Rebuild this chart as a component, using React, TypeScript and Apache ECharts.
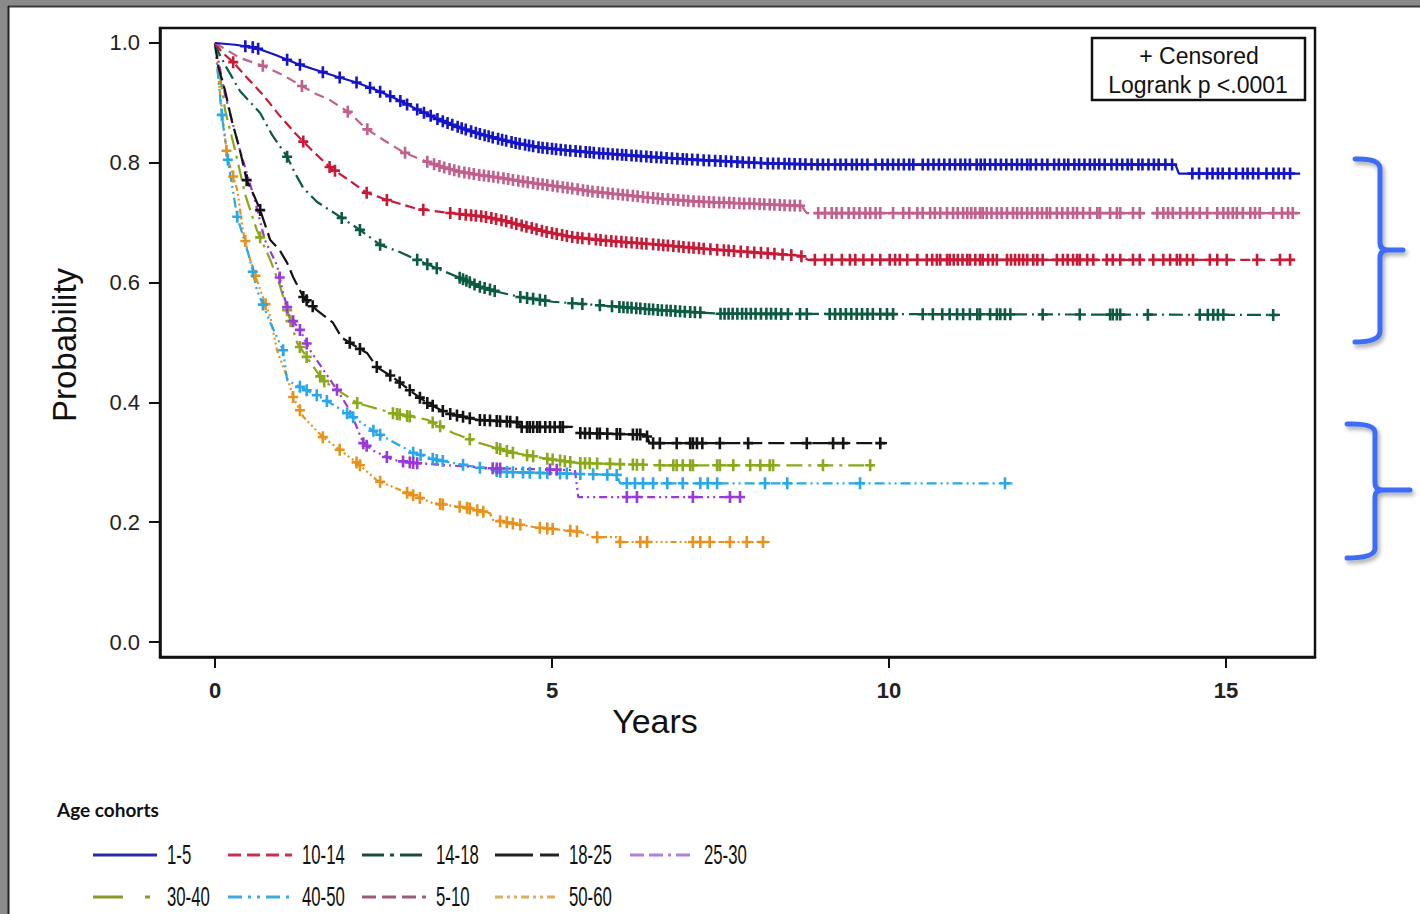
import React, { useEffect, useRef } from "react";
import * as echarts from "echarts";

// ---------- Data ----------
const COHORTS = ["1-5", "5-10", "10-14", "14-18", "18-25", "25-30", "30-40", "40-50", "50-60"];

// Kaplan–Meier curves: times (years) and survival probability
const T_1_5 = [0, 0.3, 0.6, 0.9, 1.2, 1.5, 1.8, 2.1, 2.4, 2.7, 3.0, 3.3, 3.6, 3.9, 4.2, 4.5, 4.8, 5.2, 5.7, 6.2, 6.7, 7.3, 8.2, 9.0, 14.25, 14.3, 16.1];
const S_1_5 = [1, 0.997, 0.992, 0.98, 0.966, 0.955, 0.944, 0.934, 0.921, 0.906, 0.889, 0.873, 0.86, 0.849, 0.84, 0.832, 0.826, 0.821, 0.816, 0.812, 0.808, 0.804, 0.799, 0.797, 0.797, 0.782, 0.782];

const T_5_10 = [0, 0.15, 0.37, 0.71, 1.0, 1.26, 1.5, 1.7, 2.0, 2.23, 2.5, 2.79, 3.0, 3.19, 3.4, 3.63, 3.9, 4.23, 4.6, 5.12, 5.6, 6.1, 6.6, 7.2, 7.9, 8.7, 8.78, 16.1];
const S_5_10 = [1, 0.99, 0.975, 0.962, 0.947, 0.93, 0.915, 0.905, 0.883, 0.858, 0.838, 0.818, 0.808, 0.8, 0.792, 0.785, 0.78, 0.775, 0.768, 0.76, 0.752, 0.746, 0.74, 0.735, 0.732, 0.728, 0.716, 0.716];

const T_10_14 = [0, 0.1, 0.27, 0.45, 0.7, 0.95, 1.2, 1.4, 1.7, 2.0, 2.25, 2.55, 3.0, 3.5, 4.0, 4.3, 4.6, 4.9, 5.3, 5.8, 6.5, 7.2, 7.8, 8.68, 8.8, 16.1];
const S_10_14 = [1, 0.985, 0.968, 0.945, 0.915, 0.88, 0.848, 0.825, 0.793, 0.77, 0.75, 0.738, 0.723, 0.716, 0.71, 0.703, 0.694, 0.685, 0.676, 0.67, 0.664, 0.657, 0.652, 0.645, 0.638, 0.638];

const T_14_18 = [0, 0.05, 0.15, 0.37, 0.67, 0.85, 1.07, 1.2, 1.31, 1.51, 1.88, 2.15, 2.45, 2.74, 3.0, 3.29, 3.63, 3.93, 4.25, 4.53, 5.01, 5.61, 6.6, 7.5, 15.8];
const S_14_18 = [1, 0.985, 0.963, 0.92, 0.883, 0.846, 0.81, 0.78, 0.758, 0.735, 0.708, 0.688, 0.663, 0.651, 0.638, 0.624, 0.608, 0.593, 0.583, 0.576, 0.568, 0.563, 0.554, 0.548, 0.546];

const T_18_25 = [0, 0.05, 0.15, 0.25, 0.37, 0.47, 0.58, 0.67, 0.82, 0.96, 1.07, 1.16, 1.31, 1.51, 1.75, 1.88, 2.11, 2.26, 2.4, 2.64, 2.94, 3.15, 3.44, 3.89, 4.48, 4.55, 5.3, 5.37, 6.4, 6.45, 9.97];
const S_18_25 = [1, 0.96, 0.92, 0.87, 0.821, 0.771, 0.745, 0.721, 0.671, 0.654, 0.633, 0.609, 0.576, 0.554, 0.533, 0.508, 0.492, 0.482, 0.459, 0.442, 0.416, 0.399, 0.382, 0.371, 0.367, 0.359, 0.359, 0.349, 0.346, 0.332, 0.332];

const T_25_30 = [0, 0.15, 0.37, 0.59, 0.74, 0.92, 1.01, 1.11, 1.26, 1.41, 1.81, 2.0, 2.2, 2.34, 2.64, 2.94, 4.12, 5.34, 5.39, 7.86];
const S_25_30 = [1, 0.913, 0.821, 0.738, 0.671, 0.629, 0.583, 0.543, 0.521, 0.487, 0.421, 0.387, 0.332, 0.32, 0.304, 0.299, 0.29, 0.287, 0.242, 0.242];

const T_30_40 = [0, 0.15, 0.3, 0.45, 0.62, 0.82, 0.96, 1.07, 1.22, 1.36, 1.6, 2.11, 2.64, 3.15, 3.53, 3.93, 4.42, 4.87, 5.37, 6.6, 9.82];
const S_30_40 = [1, 0.888, 0.82, 0.746, 0.688, 0.638, 0.596, 0.554, 0.499, 0.476, 0.437, 0.399, 0.382, 0.371, 0.349, 0.332, 0.316, 0.307, 0.299, 0.295, 0.295];

const T_40_50 = [0, 0.1, 0.19, 0.33, 0.52, 0.62, 0.82, 1.01, 1.07, 1.26, 1.56, 1.96, 2.4, 2.94, 3.29, 4.12, 4.23, 5.96, 6.01, 11.83];
const S_40_50 = [1, 0.88, 0.805, 0.71, 0.638, 0.588, 0.533, 0.487, 0.437, 0.426, 0.409, 0.382, 0.349, 0.316, 0.304, 0.287, 0.284, 0.279, 0.265, 0.265];

const T_50_60 = [0, 0.07, 0.18, 0.33, 0.42, 0.52, 0.67, 0.82, 0.92, 1.07, 1.16, 1.31, 1.6, 1.85, 2.11, 2.4, 2.85, 3.23, 3.74, 4.08, 4.12, 4.72, 5.42, 5.61, 5.96, 6.01, 8.23];
const S_50_60 = [1, 0.922, 0.81, 0.755, 0.683, 0.638, 0.588, 0.543, 0.487, 0.442, 0.409, 0.376, 0.342, 0.321, 0.299, 0.27, 0.249, 0.232, 0.224, 0.215, 0.204, 0.192, 0.184, 0.175, 0.175, 0.167, 0.167];

// Censoring times (years)
const C_1_5 = [0.45, 0.56, 0.64, 1.07, 1.26, 1.6, 1.85, 2.1, 2.3, 2.45, 2.6, 2.75, 2.85, 3.0, 3.1, 3.2, 3.3, 3.38, 3.45, 3.52, 3.6, 3.66, 3.72, 3.8, 3.87, 3.93, 4.0, 4.06, 4.12, 4.2, 4.26, 4.32, 4.4, 4.46, 4.52, 4.6, 4.66, 4.72, 4.8, 4.86, 4.93, 5.0, 5.06, 5.13, 5.2, 5.27, 5.35, 5.42, 5.5, 5.56, 5.62, 5.7, 5.76, 5.83, 5.9, 5.97, 6.04, 6.1, 6.18, 6.25, 6.32, 6.4, 6.47, 6.55, 6.62, 6.7, 6.78, 6.86, 6.94, 7.0, 7.08, 7.16, 7.25, 7.33, 7.42, 7.5, 7.58, 7.66, 7.75, 7.83, 7.92, 8.0, 8.1, 8.2, 8.28, 8.36, 8.45, 8.52, 8.6, 8.68, 8.76, 8.85, 8.94, 9.02, 9.1, 9.2, 9.28, 9.36, 9.45, 9.52, 9.6, 9.68, 9.8, 9.9, 9.98, 10.06, 10.14, 10.22, 10.3, 10.36, 10.5, 10.58, 10.66, 10.74, 10.82, 10.9, 10.98, 11.06, 11.13, 11.2, 11.3, 11.36, 11.42, 11.5, 11.58, 11.66, 11.74, 11.82, 11.9, 11.97, 12.05, 12.1, 12.18, 12.27, 12.35, 12.45, 12.52, 12.6, 12.66, 12.75, 12.82, 12.9, 12.98, 13.05, 13.12, 13.2, 13.3, 13.38, 13.46, 13.54, 13.6, 13.7, 13.76, 13.85, 13.93, 14.0, 14.1, 14.2, 14.5, 14.6, 14.72, 14.8, 14.88, 14.95, 15.05, 15.15, 15.25, 15.32, 15.4, 15.48, 15.6, 15.7, 15.78, 15.86, 15.95];
const C_5_10 = [0.71, 1.29, 1.97, 2.26, 2.82, 3.15, 3.25, 3.33, 3.4, 3.48, 3.55, 3.62, 3.7, 3.77, 3.84, 3.92, 3.99, 4.06, 4.13, 4.2, 4.28, 4.35, 4.42, 4.5, 4.57, 4.64, 4.72, 4.79, 4.86, 4.93, 5.01, 5.08, 5.16, 5.23, 5.3, 5.38, 5.46, 5.53, 5.6, 5.68, 5.75, 5.83, 5.9, 5.98, 6.05, 6.12, 6.2, 6.27, 6.35, 6.42, 6.5, 6.57, 6.64, 6.72, 6.8, 6.87, 6.95, 7.02, 7.1, 7.18, 7.25, 7.33, 7.4, 7.48, 7.55, 7.63, 7.7, 7.78, 7.85, 7.93, 8.0, 8.08, 8.15, 8.23, 8.3, 8.38, 8.45, 8.53, 8.6, 8.68, 8.95, 9.05, 9.15, 9.22, 9.3, 9.4, 9.48, 9.56, 9.65, 9.72, 9.8, 9.87, 10.06, 10.21, 10.3, 10.42, 10.5, 10.61, 10.68, 10.76, 10.86, 10.95, 11.02, 11.1, 11.16, 11.22, 11.28, 11.35, 11.39, 11.45, 11.52, 11.6, 11.67, 11.75, 11.84, 11.9, 11.97, 12.05, 12.12, 12.2, 12.27, 12.34, 12.39, 12.49, 12.57, 12.65, 12.73, 12.79, 12.88, 12.98, 13.09, 13.13, 13.28, 13.38, 13.43, 13.62, 13.72, 13.98, 14.07, 14.14, 14.21, 14.32, 14.42, 14.51, 14.61, 14.72, 14.87, 14.96, 15.03, 15.1, 15.16, 15.25, 15.36, 15.43, 15.5, 15.7, 15.83, 15.92, 15.99];
const C_10_14 = [0.27, 1.31, 1.7, 1.78, 2.25, 2.55, 3.09, 3.49, 3.63, 3.72, 3.8, 3.87, 3.95, 4.02, 4.1, 4.17, 4.25, 4.32, 4.4, 4.47, 4.55, 4.62, 4.7, 4.77, 4.85, 4.92, 5.0, 5.07, 5.15, 5.22, 5.3, 5.38, 5.45, 5.55, 5.65, 5.72, 5.8, 5.88, 5.95, 6.03, 6.1, 6.18, 6.26, 6.33, 6.4, 6.5, 6.58, 6.65, 6.72, 6.8, 6.88, 6.95, 7.03, 7.1, 7.18, 7.25, 7.35, 7.45, 7.55, 7.62, 7.7, 7.8, 7.9, 8.0, 8.1, 8.2, 8.3, 8.42, 8.55, 8.7, 8.9, 9.05, 9.15, 9.3, 9.42, 9.5, 9.62, 9.75, 9.87, 10.01, 10.09, 10.16, 10.27, 10.42, 10.56, 10.64, 10.71, 10.76, 10.86, 10.9, 10.96, 11.02, 11.09, 11.16, 11.2, 11.28, 11.35, 11.39, 11.47, 11.54, 11.6, 11.75, 11.81, 11.87, 11.93, 11.99, 12.05, 12.14, 12.2, 12.28, 12.49, 12.58, 12.65, 12.73, 12.79, 12.83, 12.94, 13.03, 13.23, 13.32, 13.43, 13.62, 13.72, 13.92, 14.07, 14.17, 14.27, 14.32, 14.42, 14.51, 14.76, 14.87, 15.01, 15.46, 15.8, 15.95];
const C_14_18 = [1.07, 1.88, 2.15, 2.45, 3.0, 3.15, 3.29, 3.63, 3.68, 3.73, 3.78, 3.85, 3.93, 4.0, 4.08, 4.15, 4.53, 4.63, 4.72, 4.82, 4.9, 5.3, 5.45, 5.71, 5.89, 6.0, 6.06, 6.12, 6.18, 6.25, 6.31, 6.38, 6.44, 6.5, 6.57, 6.63, 6.7, 6.76, 6.83, 6.9, 6.97, 7.05, 7.12, 7.2, 7.5, 7.56, 7.62, 7.68, 7.75, 7.82, 7.88, 7.95, 8.02, 8.1, 8.18, 8.25, 8.32, 8.4, 8.5, 8.68, 8.78, 9.12, 9.2, 9.28, 9.36, 9.44, 9.52, 9.6, 9.68, 9.76, 9.87, 9.97, 10.06, 10.5, 10.65, 10.79, 10.9, 11.01, 11.1, 11.2, 11.31, 11.35, 11.5, 11.6, 11.65, 11.72, 11.8, 12.28, 12.83, 13.28, 13.32, 13.38, 13.43, 13.84, 14.61, 14.73, 14.81, 14.88, 14.96, 15.7];
const C_18_25 = [0.47, 0.67, 1.31, 1.36, 1.45, 2.0, 2.15, 2.4, 2.6, 2.74, 2.89, 3.04, 3.15, 3.23, 3.38, 3.49, 3.59, 3.68, 3.78, 3.93, 4.0, 4.08, 4.18, 4.23, 4.33, 4.38, 4.48, 4.55, 4.63, 4.67, 4.72, 4.78, 4.82, 4.9, 4.97, 5.04, 5.12, 5.16, 5.42, 5.49, 5.56, 5.67, 5.71, 5.82, 5.96, 6.01, 6.2, 6.26, 6.31, 6.41, 6.5, 6.6, 6.85, 7.05, 7.09, 7.15, 7.23, 7.49, 7.91, 8.78, 9.17, 9.32, 9.87];
const C_25_30 = [0.96, 1.07, 1.16, 1.26, 1.36, 1.81, 2.2, 2.25, 2.55, 2.79, 2.89, 2.94, 3.0, 4.12, 4.18, 4.23, 4.97, 5.07, 6.11, 6.26, 7.09, 7.64, 7.79];
const C_30_40 = [0.67, 1.07, 1.12, 1.26, 1.36, 1.56, 1.62, 2.11, 2.64, 2.7, 2.74, 2.85, 2.89, 3.23, 3.34, 3.78, 4.18, 4.23, 4.33, 4.42, 4.63, 4.72, 4.93, 5.01, 5.12, 5.19, 5.27, 5.42, 5.49, 5.56, 5.67, 5.86, 6.01, 6.2, 6.26, 6.35, 6.6, 6.8, 6.85, 6.94, 7.05, 7.09, 7.45, 7.49, 7.69, 7.94, 8.09, 8.23, 8.28, 9.02, 9.72];
const C_40_50 = [0.1, 0.19, 0.33, 0.56, 0.71, 1.01, 1.26, 1.36, 1.51, 1.66, 1.96, 2.05, 2.35, 2.45, 2.94, 3.05, 3.23, 3.29, 3.38, 3.68, 3.93, 4.18, 4.23, 4.33, 4.42, 4.57, 4.67, 4.82, 4.93, 5.12, 5.22, 5.42, 5.61, 5.82, 5.96, 6.11, 6.23, 6.35, 6.5, 6.71, 6.94, 7.2, 7.31, 7.45, 8.16, 8.49, 9.57, 11.72];
const C_50_60 = [0.17, 0.27, 0.45, 0.6, 0.75, 1.16, 1.26, 1.6, 1.85, 2.1, 2.15, 2.45, 2.85, 2.94, 3.04, 3.34, 3.38, 3.63, 3.74, 3.78, 3.89, 3.98, 4.23, 4.33, 4.42, 4.53, 4.82, 4.93, 5.01, 5.27, 5.37, 5.67, 6.01, 6.31, 6.41, 7.09, 7.2, 7.34, 7.64, 7.89, 8.13];

const X_TICKS = [0, 5, 10, 15];
const Y_TICKS = [0, 0.2, 0.4, 0.6, 0.8, 1.0];

const LEGEND_ROW1 = ["1-5", "10-14", "14-18", "18-25", "25-30"];
const LEGEND_ROW2 = ["30-40", "40-50", "5-10", "50-60"];

// ---------- Styles ----------
const COLORS: Record<string, string> = {
  "1-5": "#1414c8",
  "5-10": "#c0608c",
  "10-14": "#c81a36",
  "14-18": "#0c5a42",
  "18-25": "#141414",
  "25-30": "#9a3ad6",
  "30-40": "#8aa81a",
  "40-50": "#28a8e8",
  "50-60": "#e8921c",
};
const DASH: Record<string, any> = {
  "1-5": "solid",
  "5-10": [10, 6],
  "10-14": [10, 5],
  "14-18": [14, 5, 2, 5],
  "18-25": [16, 6],
  "25-30": [8, 4, 2, 4, 2, 4],
  "30-40": [16, 6, 3, 6],
  "40-50": [10, 4, 2, 4, 2, 4],
  "50-60": [6, 3, 2, 3, 2, 3, 2, 3],
};
const LEG_COLORS: Record<string, string> = {
  "1-5": "#2b2ba8",
  "5-10": "#9a5a78",
  "10-14": "#c8304f",
  "14-18": "#1e4d3c",
  "18-25": "#222222",
  "25-30": "#b080d8",
  "30-40": "#8a9a28",
  "40-50": "#40a8e0",
  "50-60": "#d8b060",
};
const LEG_DASH: Record<string, number[] | null> = {
  "1-5": null,
  "5-10": [14, 6],
  "10-14": [13, 6],
  "14-18": [22, 6, 4, 6],
  "18-25": [38, 7],
  "25-30": [14, 5, 14, 5, 3, 5],
  "30-40": [30, 22, 5, 30],
  "40-50": [14, 6, 3, 6, 3, 6],
  "50-60": [8, 4, 3, 4, 3, 4],
};

const PLUS = "path://M3.7,0H6.3V4.7H10V7.3H6.3V12H3.7V7.3H0V4.7H3.7Z";

const BRACE1 = "M0,1 Q24,0 25,10 L25,84 Q25,92 33,92 L48,92 M33,92 Q25,92 25,100 L25,174 Q24,184 0,184";
const BRACE2 = "M0,1 Q27,0 28,9 L28,60 Q28,67 36,67 L63,67 M36,67 Q28,67 28,74 L28,126 Q27,135 0,135";
echarts.graphic.registerShape("brace1", echarts.graphic.extendPath(BRACE1, {}));
echarts.graphic.registerShape("brace2", echarts.graphic.extendPath(BRACE2, {}));

const CURVES: Record<string, [number[], number[], number[]]> = {
  "1-5": [T_1_5, S_1_5, C_1_5],
  "5-10": [T_5_10, S_5_10, C_5_10],
  "10-14": [T_10_14, S_10_14, C_10_14],
  "14-18": [T_14_18, S_14_18, C_14_18],
  "18-25": [T_18_25, S_18_25, C_18_25],
  "25-30": [T_25_30, S_25_30, C_25_30],
  "30-40": [T_30_40, S_30_40, C_30_40],
  "40-50": [T_40_50, S_40_50, C_40_50],
  "50-60": [T_50_60, S_50_60, C_50_60],
};

// position of a censor mark on the drawn curve
function curveAt(ts: number[], ss: number[], t: number) {
  for (let i = 1; i < ts.length; i++) {
    if (t <= ts[i]) {
      const f = (t - ts[i - 1]) / (ts[i] - ts[i - 1]);
      return ss[i - 1] + f * (ss[i] - ss[i - 1]);
    }
  }
  return ss[ss.length - 1];
}

const FONT = "Liberation Sans, Arial, sans-serif";

function buildOption() {
  const series: any[] = [];
  const order = [...COHORTS].reverse();
  order.forEach((name) => {
    const [ts, ss, cs] = CURVES[name];
    series.push({
      type: "line",
      name,
      data: ts.map((t, i) => [t, ss[i]]),
      symbol: "none",
      silent: true,
      lineStyle: { color: COLORS[name], width: 2.2, type: DASH[name] },
      z: 2,
    });
    series.push({
      type: "scatter",
      name: name + " censored",
      data: cs.map((t) => [t, curveAt(ts, ss, t)]),
      symbol: PLUS,
      symbolSize: [10, 12],
      silent: true,
      itemStyle: { color: COLORS[name], opacity: 1 },
      z: 3,
    });
  });

  const braceStyle = {
    fill: "none",
    stroke: "#3d6cf5",
    lineWidth: 5,
    lineCap: "round",
    lineJoin: "round",
    shadowColor: "rgba(0,0,0,0.35)",
    shadowBlur: 4,
    shadowOffsetX: 2,
    shadowOffsetY: 3,
  };

  const graphic: any[] = [
    // photo frame
    { type: "rect", shape: { x: 0, y: 0, width: 1420, height: 6 }, style: { fill: "#8a8a8a" }, z: 20 },
    { type: "rect", shape: { x: 0, y: 0, width: 8, height: 914 }, style: { fill: "#8a8a8a" }, z: 20 },
    { type: "line", shape: { x1: 8, y1: 6.5, x2: 1420, y2: 6.5 }, style: { stroke: "#3a3a3a", lineWidth: 2 }, z: 21 },
    { type: "line", shape: { x1: 8.5, y1: 6, x2: 8.5, y2: 914 }, style: { stroke: "#222", lineWidth: 2 }, z: 21 },
    // axis titles
    { type: "text", x: 655, y: 721, style: { text: "Years", font: `34px ${FONT}`, fill: "#111", align: "center", verticalAlign: "middle" }, z: 11 },
    { type: "text", x: 64, y: 345, rotation: Math.PI / 2, style: { text: "Probability", font: `33px ${FONT}`, fill: "#111", align: "center", verticalAlign: "middle" }, z: 11 },
    // stats box
    { type: "rect", shape: { x: 1092, y: 38, width: 213, height: 62 }, style: { fill: "#fff", stroke: "#111", lineWidth: 2.5 }, z: 10 },
    { type: "text", x: 1199, y: 56, style: { text: "+ Censored", font: `23px ${FONT}`, fill: "#111", align: "center", verticalAlign: "middle" }, z: 11 },
    { type: "text", x: 1198, y: 85, style: { text: "Logrank p <.0001", font: `23px ${FONT}`, fill: "#111", align: "center", verticalAlign: "middle" }, z: 11 },
    // legend title
    { type: "text", x: 57, y: 809, style: { text: "Age cohorts", font: `bold 19px Lato, ${FONT}`, fill: "#111", align: "left", verticalAlign: "middle" }, z: 11 },
    // braces
    { type: "brace1", x: 1355, y: 158, style: braceStyle, z: 11 },
    { type: "brace2", x: 1347, y: 423, style: braceStyle, z: 11 },
  ];

  const colX = [93, 228, 362, 495, 630];
  const addRow = (names: string[], y: number) => {
    names.forEach((name, i) => {
      const x0 = colX[i];
      const dash = LEG_DASH[name];
      graphic.push({
        type: "line",
        shape: { x1: x0, y1: y, x2: x0 + 64, y2: y },
        style: { stroke: LEG_COLORS[name], lineWidth: 3, lineDash: dash || undefined },
        z: 11,
      });
      graphic.push({
        type: "text",
        x: x0 + 74,
        y,
        scaleX: 0.62,
        style: { text: name, font: `27px ${FONT}`, fill: "#111", align: "left", verticalAlign: "middle" },
        z: 11,
      });
    });
  };
  addRow(LEGEND_ROW1, 855);
  addRow(LEGEND_ROW2, 897);

  return {
    animation: false,
    backgroundColor: "#ffffff",
    grid: {
      left: 160,
      top: 28,
      width: 1155,
      height: 629,
      show: true,
      borderColor: "#111",
      borderWidth: 2.5,
      backgroundColor: "transparent",
    },
    xAxis: {
      type: "value",
      min: -0.816,
      max: 16.32,
      axisLine: { show: true, onZero: false, lineStyle: { color: "#111", width: 2.5 } },
      axisTick: { show: true, length: 11, customValues: X_TICKS, lineStyle: { color: "#111", width: 2 } },
      axisLabel: { customValues: X_TICKS, margin: 22, fontFamily: FONT, fontSize: 22, fontWeight: "bold", color: "#222" },
      splitLine: { show: false },
    },
    yAxis: {
      type: "value",
      min: -0.025,
      max: 1.025,
      axisLine: { show: true, onZero: false, lineStyle: { color: "#111", width: 2.5 } },
      axisTick: { show: true, length: 11, customValues: Y_TICKS, lineStyle: { color: "#111", width: 2 } },
      axisLabel: {
        customValues: Y_TICKS,
        margin: 20,
        fontFamily: FONT,
        fontSize: 22,
        color: "#222",
        formatter: (v: number) => v.toFixed(1),
      },
      splitLine: { show: false },
    },
    series,
    graphic,
  };
}

export default function App() {
  const ref = useRef<HTMLDivElement>(null);
  useEffect(() => {
    if (!ref.current) return;
    const chart = echarts.init(ref.current, undefined, { renderer: "svg" });
    chart.setOption(buildOption() as any);
    return () => chart.dispose();
  }, []);
  return (
    <div
      ref={ref}
      style={{ position: "fixed", left: 0, top: 0, width: 1420, height: 914, background: "#fff" }}
    />
  );
}
